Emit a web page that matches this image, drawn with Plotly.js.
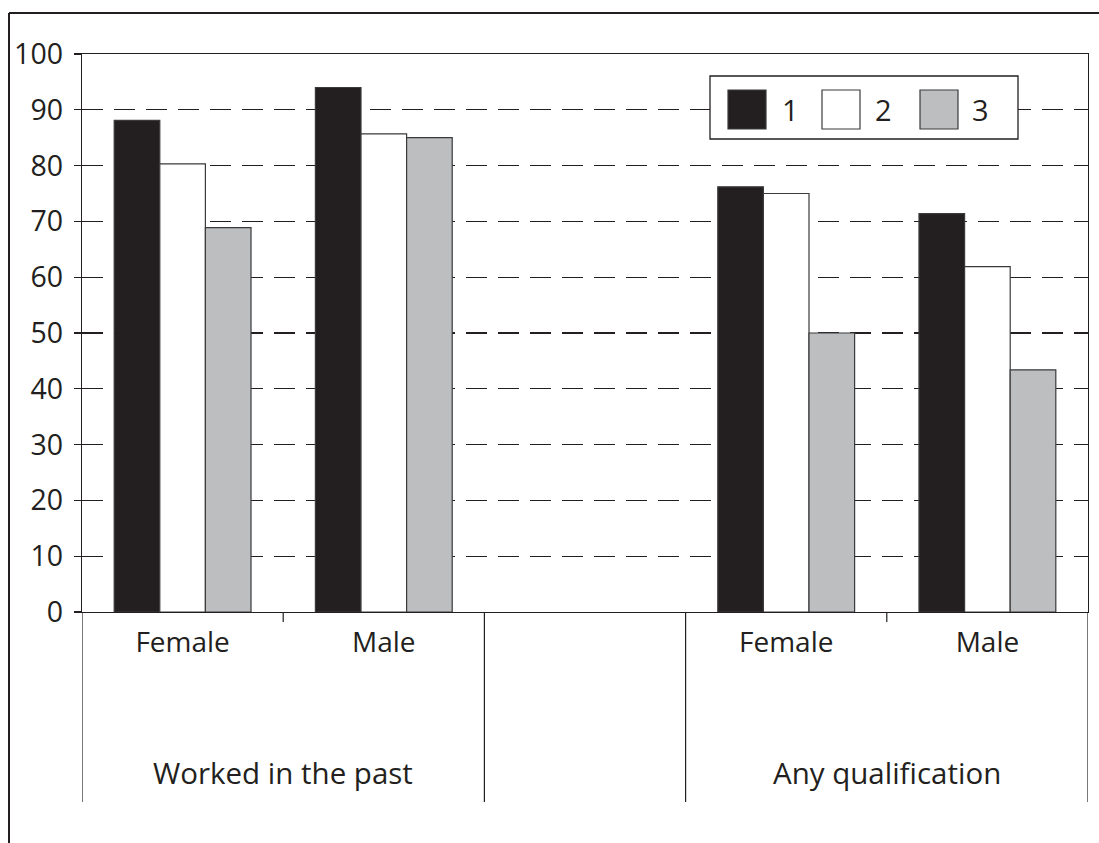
<!DOCTYPE html>
<html>
<head>
<meta charset="utf-8">
<script src="https://cdn.plot.ly/plotly-3.0.1.min.js"></script>
<style>html,body{margin:0;padding:0;background:#fff;}#chart{width:1099px;height:843px;}</style>
</head>
<body>
<div id="chart"></div>
<script>
// ---- data ----
const slots = [0, 1, 3, 4];                       // category slots (slot 2 is an empty gap)
const subLabels = ["Female", "Male", "Female", "Male"];
const groupLabels = ["Worked in the past", "Any qualification"];
const groupCenters = [0.5, 3.5];
const seriesNames = ["1", "2", "3"];
const series1 = [88.1, 94.0, 76.2, 71.4];
const series2 = [80.3, 85.7, 75.0, 61.9];
const series3 = [68.9, 85.0, 50.0, 43.4];

const INK = "#231f20";
const colors = [INK, "#ffffff", "#bcbec0"];
const FONT = "Open Sans, DejaVu Sans, sans-serif";

const W = 1099, H = 843;
const mL = 82, mR = 11, mT = 54, mB = 231;
const pw = W - mL - mR, ph = H - mT - mB;
const px = v => (v - mL) / pw;          // pixel -> paper x
const py = v => (H - mB - v) / ph;      // pixel -> paper y

const allSeries = [series1, series2, series3];
const traces = allSeries.map((s, i) => ({
  type: "bar", x: slots, y: s, name: seriesNames[i],
  marker: {color: colors[i], line: {color: "#3a3a3a", width: 1.2}},
  showlegend: false, hoverinfo: "skip"
}));

const shapes = [];
const annotations = [];
// frame lines (top and left)
shapes.push({type: "line", xref: "paper", yref: "paper", x0: px(9), x1: px(1100), y0: py(13), y1: py(13), line: {color: INK, width: 2}});
shapes.push({type: "line", xref: "paper", yref: "paper", x0: px(9), x1: px(9), y0: py(13), y1: py(845), line: {color: INK, width: 2}});
// long dividers between groups (including plot edges)
[-0.5, 1.5, 2.5, 4.5].forEach(b => shapes.push({type: "line", xref: "x", yref: "paper", x0: b, x1: b, y0: 0, y1: py(802), line: {color: INK, width: 1.2}}));
// short ticks between subcategories
[0.5, 3.5].forEach(b => shapes.push({type: "line", xref: "x", yref: "paper", x0: b, x1: b, y0: 0, y1: py(622), line: {color: INK, width: 1.2}}));
// group labels
groupLabels.forEach((g, i) => annotations.push({xref: "x", yref: "paper", x: groupCenters[i], y: py(772), text: g, showarrow: false, yanchor: "middle", font: {family: FONT, size: 29.5, color: INK}}));

// legend (drawn manually)
shapes.push({type: "rect", xref: "paper", yref: "paper", layer: "above", x0: px(710), x1: px(1018), y0: py(76), y1: py(139), fillcolor: "#fff", line: {color: INK, width: 1.3}});
const keyX = [728, 822, 920];
const labX = [790, 883, 980];
seriesNames.forEach((n, i) => {
  shapes.push({type: "rect", xref: "paper", yref: "paper", layer: "above", x0: px(keyX[i]), x1: px(keyX[i] + 38), y0: py(90), y1: py(129), fillcolor: colors[i], line: {color: "#3a3a3a", width: 1.2}});
  annotations.push({xref: "paper", yref: "paper", x: px(labX[i]), y: py(109), text: n, showarrow: false, xanchor: "center", yanchor: "middle", font: {family: FONT, size: 29, color: INK}});
});

const layout = {
  width: W, height: H,
  margin: {l: mL, r: mR, t: mT, b: mB, pad: 0},
  paper_bgcolor: "#fff", plot_bgcolor: "#fff",
  barmode: "group", bargap: 0.32, bargroupgap: 0,
  showlegend: false,
  font: {family: FONT, color: INK},
  xaxis: {
    range: [-0.5, 4.5], tickmode: "array", tickvals: slots, ticktext: subLabels,
    ticks: "", showgrid: false, zeroline: false,
    showline: true, linecolor: INK, linewidth: 1.3, mirror: true,
    tickfont: {family: FONT, size: 28, color: INK}, ticklabelstandoff: 5,
    fixedrange: true
  },
  yaxis: {
    range: [0, 100], dtick: 10, tick0: 0,
    ticks: "outside", ticklen: 7, tickcolor: INK, tickwidth: 1.3,
    showline: true, linecolor: INK, linewidth: 1.3, mirror: true,
    showgrid: true, gridcolor: INK, gridwidth: 1.2, griddash: "21px,11px",
    zeroline: false,
    tickfont: {family: FONT, size: 28.5, color: INK}, ticklabelstandoff: 5,
    fixedrange: true
  },
  shapes: shapes,
  annotations: annotations
};

Plotly.newPlot("chart", traces, layout, {displayModeBar: false, staticPlot: true});
</script>
</body>
</html>
